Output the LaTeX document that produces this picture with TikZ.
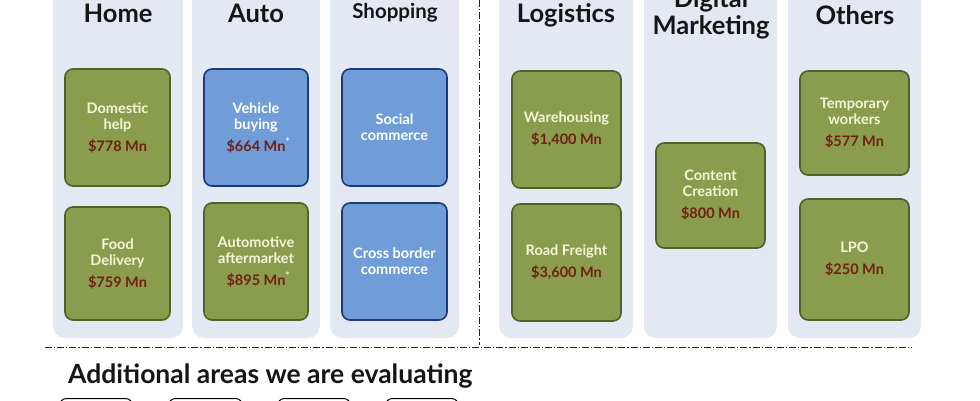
\documentclass[tikz,border=0pt]{standalone}
\usepackage{fontspec}
\setmainfont{Lato}
\definecolor{panelc}{HTML}{E3E8F3}
\definecolor{gfill}{HTML}{8A9D4E}
\definecolor{gdraw}{HTML}{4F6229}
\definecolor{bfill}{HTML}{709CD8}
\definecolor{bdraw}{HTML}{1C3A78}
\definecolor{gtxt}{HTML}{F4F6D8}
\definecolor{amt}{HTML}{721E10}
\definecolor{headc}{HTML}{151515}
\definecolor{linec}{HTML}{222222}
\tikzset{
  panel/.style={fill=panelc, rounded corners=12pt},
  gbox/.style={draw=gdraw, fill=gfill, line width=1.6pt, rounded corners=8pt, align=center,
     text=gtxt, font=\fontsize{14.5}{16}\selectfont\bfseries, inner sep=0pt},
  bbox/.style={draw=bdraw, fill=bfill, line width=1.6pt, rounded corners=8pt, align=center,
     text=white, font=\fontsize{14.5}{16}\selectfont\bfseries, inner sep=0pt},
  head/.style={text=headc, font=\fontsize{25.5}{27}\selectfont\bfseries, align=center, inner sep=0pt},
  sep/.style={draw=linec, line width=0.9pt, dash pattern=on 7pt off 2pt on 1.2pt off 2pt},
  evbox/.style={draw=black, line width=1pt, fill=white, rounded corners=7pt}
}
\newcommand{\amtx}[1]{\textcolor{amt}{#1}}
\begin{document}
\begin{tikzpicture}[x=1pt,y=-1pt]
\useasboundingbox (0,0) rectangle (980,400);
\clip (0,0) rectangle (980,400);
% panels
\path[panel] (53,-20) rectangle (183,338);
\path[panel] (192,-20) rectangle (320,338);
\path[panel] (330,-20) rectangle (459,338);
\path[panel] (499,-20) rectangle (633,338);
\path[panel] (644,-20) rectangle (777,338);
\path[panel] (788,-20) rectangle (921,338);
% separators
\coordinate (vtop) at (479,0);
\coordinate (vbot) at (479,345);
\coordinate (hl) at (45,347);
\coordinate (hr) at (912,347);
\draw[sep] (vtop) -- (vbot);
\draw[sep] (hl) -- (hr);
% headers
\node[head] (hHome) at (118,13) {Home};
\node[head] (hAuto) at (256,13) {Auto};
\node[head, font=\fontsize{20.5}{22}\selectfont\bfseries] (hShop) at (395,13) {Shopping};
\node[head] (hLog) at (566,15) {Logistics};
\node[head, font=\fontsize{25.5}{27}\selectfont\bfseries] (hDig) at (711,14) {Digital\\Marketing};
\node[head] (hOth) at (855,15) {Others};
% Home
\node[gbox, minimum width=105pt, minimum height=117pt] (dom) at (117.5,127.5)
  {Domestic\\help\\[6pt]\amtx{\$778 Mn}};
\node[gbox, minimum width=105pt, minimum height=113pt] (food) at (117.5,263.5)
  {Food\\Delivery\\[6pt]\amtx{\$759 Mn}};
% Auto
\node[bbox, minimum width=104pt, minimum height=117pt] (veh) at (256,127.5)
  {Vehicle\\buying\\[6pt]\amtx{\$664 Mn}\rlap{\textsuperscript{*}}};
\node[gbox, minimum width=104pt, minimum height=117pt] (aftm) at (256,261.5)
  {Automotive\\aftermarket\\[6pt]\amtx{\$895 Mn}\rlap{\textsuperscript{*}}};
% Shopping
\node[bbox, minimum width=105pt, minimum height=117pt] (soc) at (394.5,127.5)
  {Social\\commerce};
\node[bbox, minimum width=105pt, minimum height=117pt] (cross) at (394.5,261.5)
  {Cross border\\commerce};
% Logistics
\node[gbox, minimum width=109pt, minimum height=117pt] (ware) at (566.5,129.5)
  {Warehousing\\[6pt]\amtx{\$1,400 Mn}};
\node[gbox, minimum width=109pt, minimum height=117pt] (road) at (566.5,262.5)
  {Road Freight\\[6pt]\amtx{\$3,600 Mn}};
% Digital marketing
\node[gbox, minimum width=109pt, minimum height=105pt] (cont) at (710.5,195.5)
  {Content\\Creation\\[6pt]\amtx{\$800 Mn}};
% Others
\node[gbox, minimum width=109pt, minimum height=104pt] (temp) at (854.5,123)
  {Temporary\\workers\\[6pt]\amtx{\$577 Mn}};
\node[gbox, minimum width=109pt, minimum height=121pt] (lpo) at (854.5,259.5)
  {LPO\\[6pt]\amtx{\$250 Mn}};
% additional areas
\node[head, anchor=west, font=\fontsize{26.5}{28}\selectfont\bfseries] (addl) at (68,376) {Additional areas we are evaluating};
\node[evbox, minimum width=73pt, minimum height=30pt, anchor=north west] (ev1) at (59,398) {};
\node[evbox, minimum width=74pt, minimum height=30pt, anchor=north west] (ev2) at (168,398) {};
\node[evbox, minimum width=73pt, minimum height=30pt, anchor=north west] (ev3) at (277,398) {};
\node[evbox, minimum width=73pt, minimum height=30pt, anchor=north west] (ev4) at (385,398) {};
\end{tikzpicture}
\end{document}
